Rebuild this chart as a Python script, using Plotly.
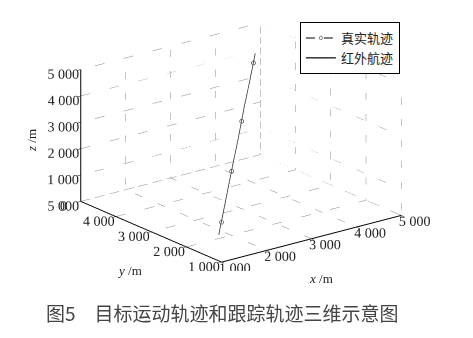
import plotly.graph_objects as go

# ---- data ----
x_ticks = [1000, 2000, 3000, 4000, 5000]
y_ticks = [1000, 2000, 3000, 4000, 5000]
z_ticks = [0, 1000, 2000, 3000, 4000, 5000]
x_tick_text = ["1 000", "2 000", "3 000", "4 000", "5 000"]
y_tick_text = ["1 000", "2 000", "3 000", "4 000", "5 000"]
z_tick_text = ["0", "1 000", "2 000", "3 000", "4 000", "5 000"]

# true trajectory (dashed, circle markers on interior samples)
true_x = [1836, 1985, 2579, 3162, 3843, 3958]
true_y = [2146, 2263, 2731, 3190, 3726, 3816]
true_z = [0, 350, 1750, 3125, 4730, 5000]
true_marker = [0, 5, 5, 5, 5, 0]

# infrared track (solid)
ir_x = [1840, 2210, 2580, 2950, 3320, 3700, 3955]
ir_y = [2150, 2440, 2735, 3020, 3320, 3610, 3812]
ir_z = [20, 900, 1760, 2630, 3500, 4390, 4990]

legend_names = ["真实轨迹", "红外航迹"]
axis_titles = ["<i>x</i> /m", "<i>y</i> /m", "<i>z</i> /m"]
caption = "图5\u3000目标运动轨迹和跟踪轨迹三维示意图"

xr = [x_ticks[0], x_ticks[-1]]
yr = [y_ticks[0], y_ticks[-1]]
zr = [z_ticks[0], z_ticks[-1]]

# ---- dotted grid on back planes (derived from tick arrays) ----
gx, gy, gz = [], [], []
for v in x_ticks:
    gx += [v, v, v, None]; gy += [yr[0], yr[1], yr[1], None]; gz += [zr[0], zr[0], zr[1], None]
for v in y_ticks:
    gx += [xr[0], xr[1], xr[1], None]; gy += [v, v, v, None]; gz += [zr[0], zr[0], zr[1], None]
for v in z_ticks:
    gx += [xr[0], xr[1], xr[1], None]; gy += [yr[1], yr[1], yr[0], None]; gz += [v, v, v, None]

fig = go.Figure()
fig.add_trace(go.Scatter3d(x=gx, y=gy, z=gz, mode="lines",
                           line=dict(color="#8a8a8a", width=1, dash="dot"),
                           showlegend=False, hoverinfo="skip"))
fig.add_trace(go.Scatter3d(x=true_x, y=true_y, z=true_z, mode="lines+markers",
                           name=legend_names[0],
                           line=dict(color="#555555", width=1.5, dash="dash"),
                           marker=dict(symbol="circle-open", size=true_marker, color="#555555",
                                       line=dict(width=1, color="#555555"))))
fig.add_trace(go.Scatter3d(x=ir_x, y=ir_y, z=ir_z, mode="lines",
                           name=legend_names[1],
                           line=dict(color="#333333", width=1.5)))

axis_common = dict(showgrid=False, showbackground=False, zeroline=False,
                   showline=True, linecolor="black", linewidth=2,
                   ticks="outside", tickcolor="black", ticklen=4, tickangle=0,
                   tickfont=dict(family="Liberation Serif", size=13, color="#222"),
                   showspikes=False, title=dict(text=""))

s = 1.77
fig.update_layout(
    width=473, height=338,
    margin=dict(l=0, r=0, t=0, b=0),
    paper_bgcolor="white",
    font=dict(family="Liberation Serif", color="#222"),
    scene=dict(
        domain=dict(x=[0.02, 1.0], y=[0.2, 0.96]),
        xaxis=dict(range=xr, tickvals=x_ticks, ticktext=x_tick_text, **axis_common),
        yaxis=dict(range=yr, tickvals=y_ticks, ticktext=y_tick_text, **axis_common),
        zaxis=dict(range=zr, tickvals=z_ticks, ticktext=z_tick_text, **axis_common),
        aspectmode="manual",
        aspectratio=dict(x=1 * s, y=1.01 * s, z=0.615 * s),
        camera=dict(eye=dict(x=-0.578 * 1.8, y=-0.744 * 1.8, z=0.3348 * 1.8),
                    center=dict(x=0, y=0, z=0), up=dict(x=0, y=0, z=1),
                    projection=dict(type="orthographic")),
    ),
    legend=dict(x=0.634, y=0.935, xanchor="left", yanchor="top",
                bgcolor="white", bordercolor="black", borderwidth=1,
                font=dict(family="Liberation Serif, Noto Sans CJK SC", size=13, color="#222"),
                tracegroupgap=0, itemwidth=30),
    annotations=[
        dict(text=axis_titles[0], x=321 / 473, y=1 - 278 / 338, xref="paper", yref="paper",
             xanchor="center", yanchor="middle", showarrow=False,
             font=dict(family="Liberation Serif", size=13, color="#222")),
        dict(text=axis_titles[1], x=129 / 473, y=1 - 270 / 338, xref="paper", yref="paper",
             xanchor="center", yanchor="middle", showarrow=False,
             font=dict(family="Liberation Serif", size=13, color="#222")),
        dict(text=axis_titles[2], x=31 / 473, y=1 - 141 / 338, xref="paper", yref="paper",
             xanchor="center", yanchor="middle", showarrow=False, textangle=-90,
             font=dict(family="Liberation Serif", size=13, color="#222")),
        dict(text=caption, x=0.471, y=0.074, xref="paper", yref="paper",
             xanchor="center", yanchor="middle", showarrow=False,
             font=dict(family="Noto Sans CJK SC", size=19, color="#444")),
    ],
)

fig.write_html("out.html")
